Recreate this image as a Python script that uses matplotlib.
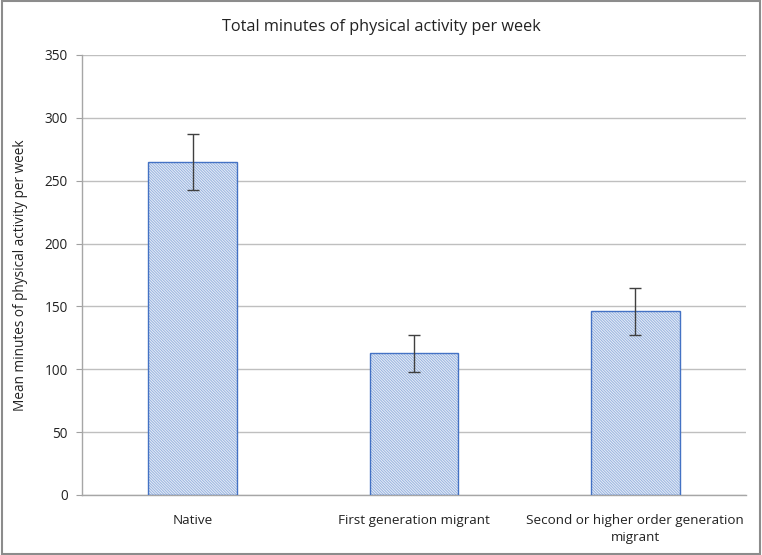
import matplotlib
matplotlib.use('Agg')
import matplotlib.pyplot as plt
from matplotlib.patches import Rectangle

categories = ['Native', 'First generation migrant', 'Second or higher order generation\nmigrant']
means = [265, 113, 146]
err_low = [243, 98, 127]
err_high = [287, 127, 165]

plt.rcParams['font.family'] = ['Open Sans', 'DejaVu Sans']
plt.rcParams['hatch.linewidth'] = 0.7

fig = plt.figure(figsize=(7.62, 5.55), dpi=100)
ax = fig.add_axes([82 / 762, 60 / 555, 664 / 762, 440 / 555])

x = list(range(len(categories)))
# hatched fill, then outline
ax.bar(x, means, width=0.4, color='#e6edf7', edgecolor='#9ab4e0', hatch='\\' * 12, linewidth=0, zorder=2)
ax.bar(x, means, width=0.4, fill=False, edgecolor='#4472c4', linewidth=1.0, zorder=3)

yerr = [[m - lo for m, lo in zip(means, err_low)], [hi - m for m, hi in zip(means, err_high)]]
ax.errorbar(x, means, yerr=yerr, fmt='none', ecolor='#404040', elinewidth=1.0, capsize=4, capthick=1.0, zorder=4)

ax.set_xlim(-0.5, 2.5)
ax.set_ylim(0, 350)
ax.set_yticks(range(0, 351, 50))
ax.set_xticks(x)
ax.set_xticklabels(categories, fontsize=9.7, color='#222222', linespacing=1.4)
ax.tick_params(axis='y', labelsize=9.8, colors='#222222', length=4, color='#a0a0a0', pad=6)
ax.tick_params(axis='x', length=0, pad=14)
ax.grid(axis='y', color='#bfbfbf', linewidth=1.0, zorder=0)
ax.set_axisbelow(True)
for s in ['top', 'right']:
    ax.spines[s].set_visible(False)
for s in ['left', 'bottom']:
    ax.spines[s].set_color('#a6a6a6')
    ax.spines[s].set_linewidth(1.0)

ax.set_ylabel('Mean minutes of physical activity per week', fontsize=9.8, color='#222222', labelpad=12)
fig.text(0.5, 1 - 27 / 555, 'Total minutes of physical activity per week', ha='center', va='center', fontsize=11.7, color='#222222')

fig.patches.append(Rectangle((0.002, 0.002), 0.996, 0.996, transform=fig.transFigure, fill=False,
                             edgecolor='#8c8c8c', linewidth=1.5))

fig.savefig('out.png', dpi=100)
